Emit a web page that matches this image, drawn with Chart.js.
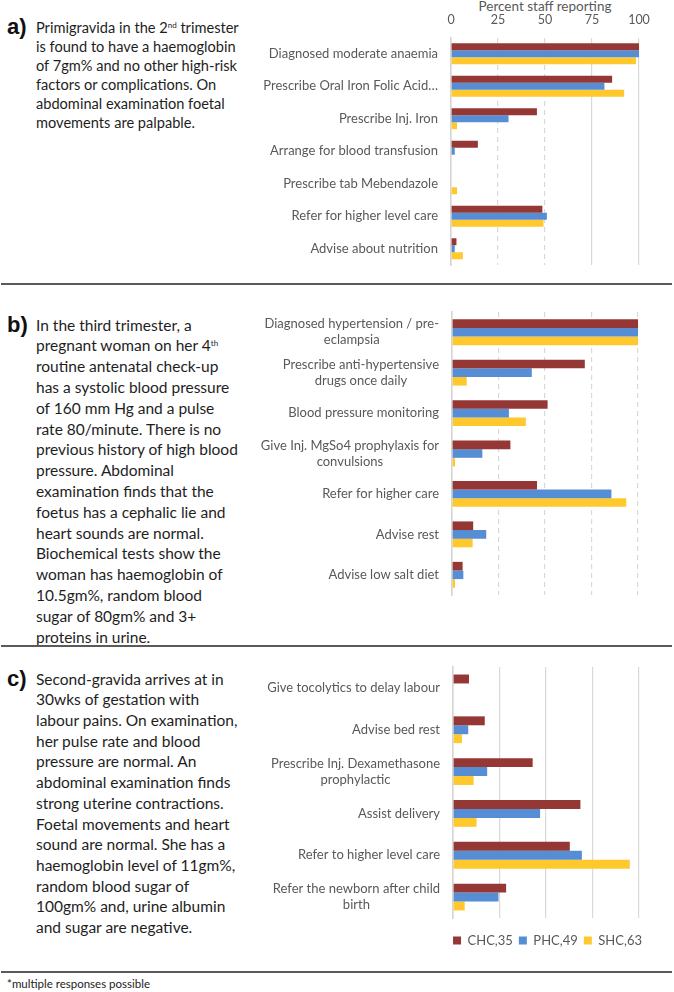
<!DOCTYPE html>
<html>
<head>
<meta charset="utf-8">
<script src="https://cdn.jsdelivr.net/npm/chart.js@4.4.0/dist/chart.umd.min.js"></script>
<style>
  body { margin: 0; width: 674px; height: 992px; position: relative; background: #fff; overflow: hidden; font-family: Lato, sans-serif; }
  .box { position: absolute; left: 250px; width: 424px; }
  .tag { position: absolute; left: 7px; font: bold 22px "Liberation Sans", Arial, sans-serif; color: #111; line-height: 22px; }
  .txt { position: absolute; left: 36px; color: #1e1e1e; white-space: nowrap; }
  .txt sup { font-size: 8px; vertical-align: 5px; line-height: 0; }
  .rule { position: absolute; left: 1px; width: 671px; height: 2px; background: #5a5a5a; }
  .note { position: absolute; left: 7px; top: 977px; font-size: 11.5px; color: #222; }
  .axtitle { position: absolute; left: 445px; width: 200px; top: -1px; line-height: 15px; text-align: center; font-size: 13.5px; color: #595959; }
</style>
</head>
<body>

<div class="tag" style="top:16px">a)</div>
<div class="txt" style="top:17.5px; line-height:19px; font-size:14.6px">
Primigravida in the 2<sup>nd</sup> trimester<br>
is found to have a haemoglobin<br>
of 7gm% and no other high-risk<br>
factors or complications. On<br>
abdominal examination foetal<br>
movements are palpable.
</div>

<div class="rule" style="top:283px"></div>

<div class="tag" style="top:314px">b)</div>
<div class="txt" style="top:314.6px; line-height:20.8px; font-size:15.5px">
In the third trimester, a<br>
pregnant woman on her 4<sup>th</sup><br>
routine antenatal check-up<br>
has a systolic blood pressure<br>
of 160 mm Hg and a pulse<br>
rate 80/minute. There is no<br>
previous history of high blood<br>
pressure. Abdominal<br>
examination finds that the<br>
foetus has a cephalic lie and<br>
heart sounds are normal.<br>
Biochemical tests show the<br>
woman has haemoglobin of<br>
10.5gm%, random blood<br>
sugar of 80gm% and 3+<br>
proteins in urine.
</div>

<div class="rule" style="top:645px"></div>

<div class="tag" style="top:668px">c)</div>
<div class="txt" style="top:668.6px; line-height:20.7px; font-size:15.5px">
Second-gravida arrives at in<br>
30wks of gestation with<br>
labour pains. On examination,<br>
her pulse rate and blood<br>
pressure are normal. An<br>
abdominal examination finds<br>
strong uterine contractions.<br>
Foetal movements and heart<br>
sound are normal. She has a<br>
haemoglobin level of 11gm%,<br>
random blood sugar of<br>
100gm% and, urine albumin<br>
and sugar are negative.
</div>

<div class="axtitle">Percent staff reporting</div>
<div class="box" style="top:0px"><canvas id="chartA" width="424" height="275"></canvas></div>
<div class="box" style="top:296px"><canvas id="chartB" width="424" height="310"></canvas></div>
<div class="box" style="top:655px"><canvas id="chartC" width="424" height="302"></canvas></div>

<div class="rule" style="top:971px"></div>
<div class="note">*multiple responses possible</div>

<script>
// series
var seriesNames = ["CHC,35", "PHC,49", "SHC,63"];
var seriesColors = ["#953735", "#558ed5", "#ffc82c"];
var xTicks = [0, 25, 50, 75, 100];

// a) anaemia
var labelsA = ["Diagnosed moderate anaemia", "Prescribe Oral Iron Folic Acid\u2026", "Prescribe Inj. Iron",
  "Arrange for blood transfusion", "Prescribe tab Mebendazole", "Refer for higher level care", "Advise about nutrition"];
var chcA = [100, 85.7, 45.7, 14.3, 0, 48.6, 2.9];
var phcA = [100, 81.6, 30.6, 2.0, 0, 51.0, 2.0];
var shcA = [98.4, 92.1, 3.2, 0, 3.2, 49.2, 6.3];

// b) hypertension
var labelsB = [["Diagnosed hypertension / pre-", "eclampsia"], ["Prescribe anti-hypertensive", "drugs once daily"],
  "Blood pressure monitoring", ["Give Inj. MgSo4 prophylaxis for", "convulsions"], "Refer for higher care",
  "Advise rest", "Advise low salt diet"];
var chcB = [100, 71.4, 51.4, 31.4, 45.7, 11.4, 5.7];
var phcB = [100, 42.9, 30.6, 16.3, 85.7, 18.4, 6.1];
var shcB = [100, 7.9, 39.7, 1.6, 93.7, 11.1, 1.6];

// c) preterm labour
var labelsC = ["Give tocolytics to delay labour", "Advise bed rest", ["Prescribe Inj. Dexamethasone", "prophylactic"],
  "Assist delivery", "Refer to higher level care", ["Refer the newborn after child", "birth"]];
var chcC = [8.6, 17.1, 42.9, 68.6, 62.9, 28.6];
var phcC = [0, 8.2, 18.4, 46.9, 69.4, 24.5];
var shcC = [0, 4.8, 11.1, 12.7, 95.2, 6.3];

// category labels: block right aligned, lines centred inside the block
var yLabelPlugin = {
  id: "yLabels",
  afterDraw: function(chart) {
    var ctx = chart.ctx, ys = chart.scales.y, area = chart.chartArea;
    ctx.save();
    ctx.font = "13px Lato";
    ctx.fillStyle = "#595959";
    ctx.textAlign = "center";
    ctx.textBaseline = "middle";
    chart.data.labels.forEach(function(lab, i) {
      var lines = [].concat(lab);
      var w = Math.max.apply(null, lines.map(function(l) { return ctx.measureText(l).width; }));
      var cx = area.left - 13 - w / 2;
      var y0 = ys.getPixelForTick(i) - (lines.length - 1) * 8;
      lines.forEach(function(l, k) { ctx.fillText(l, cx, y0 + k * 16); });
    });
    ctx.restore();
  }
};

function makePanel(canvas, labels, chc, phc, shc, o) {
  var data = [chc, phc, shc];
  var datasets = seriesNames.map(function(name, i) {
    return {
      label: name,
      data: data[i],
      backgroundColor: seriesColors[i],
      borderWidth: 0,
      barPercentage: 1.0,
      categoryPercentage: 0.64
    };
  });

  var config = {
    type: "bar",
    data: { labels: labels, datasets: datasets },
    plugins: [yLabelPlugin],
    options: {
      indexAxis: "y",
      responsive: false,
      animation: false,
      layout: { padding: o.padding },
      plugins: {
        tooltip: { enabled: false },
        legend: {
          display: !!o.legend,
          position: "bottom",
          align: "end",
          labels: { boxWidth: 8, boxHeight: 8, padding: 6, color: "#595959", font: { family: "Lato", size: 13 } }
        }
      },
      scales: {
        x: {
          type: "linear",
          position: o.xPos,
          min: 0,
          max: o.xMax || 100,
          afterBuildTicks: function(s) { s.ticks = xTicks.map(function(v) { return { value: v }; }); },
          afterFit: o.xFit,
          ticks: {
            display: !!o.ticks,
            color: "#595959",
            font: { family: "Lato", size: 12.5, lineHeight: 1 },
            padding: 11
          },
          grid: {
            drawTicks: false,
            color: function(c) { return c.tick && c.tick.value === 0 ? "rgba(0,0,0,0)" : "#d9d9d9"; },
            lineWidth: 1.2
          },
          border: {
            display: false,
            dash: function(c) { return c.tick && o.dashed(c.tick.value) ? [5, 4] : []; }
          }
        },
        y: {
          type: "category",
          ticks: { display: false },
          grid: { display: false },
          border: { display: true, color: "#d4d4d4", width: 1.6 },
          afterFit: function(s) { s.width = o.yWidth; }
        }
      }
    }
  };
  return new Chart(canvas, config);
}

makePanel(document.getElementById("chartA"), labelsA, chcA, phcA, shcA, {
  padding: { top: 3, bottom: 10, left: 0, right: 35 },
  yWidth: 201, xPos: "top", ticks: true,
  dashed: function(v) { return v === 25 || v === 50; }
});

makePanel(document.getElementById("chartB"), labelsB, chcB, phcB, shcB, {
  padding: { top: 16, bottom: 11, left: 0, right: 36 },
  yWidth: 202, xPos: "top",
  dashed: function(v) { return v > 0; }
});

makePanel(document.getElementById("chartC"), labelsC, chcC, phcC, shcC, {
  padding: { top: 12, bottom: 0, left: 0, right: 26 },
  yWidth: 203, xPos: "bottom", legend: true, xMax: 105,
  xFit: function(s) { s.height = 10; },
  dashed: function(v) { return false; }
});
</script>
</body>
</html>
